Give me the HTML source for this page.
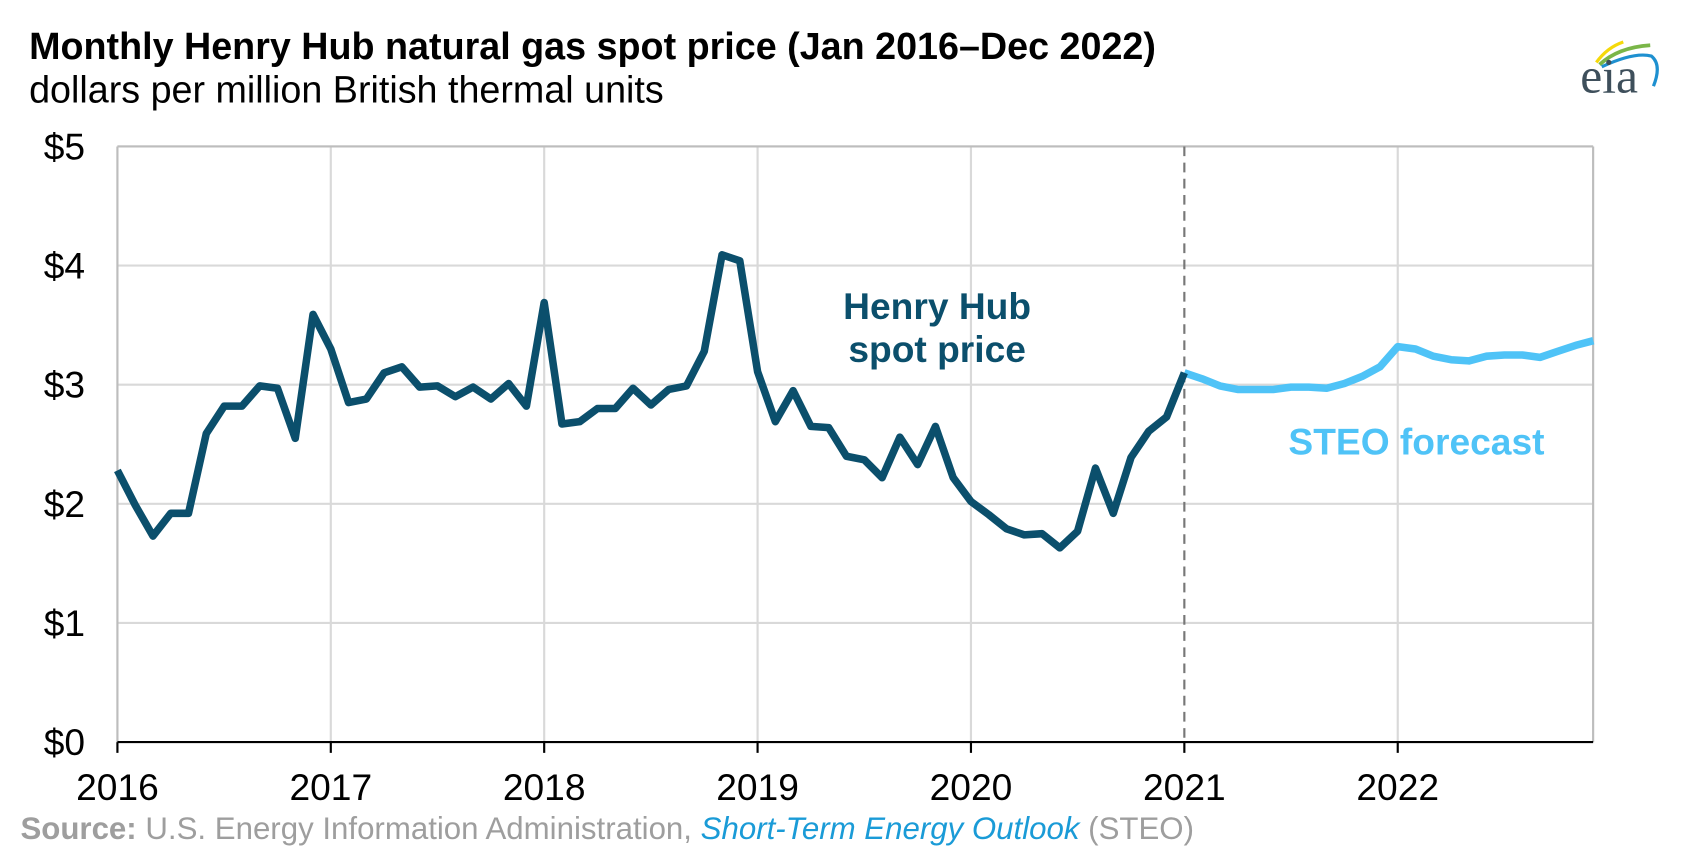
<!DOCTYPE html>
<html><head><meta charset="utf-8"><style>
html,body{margin:0;padding:0;background:#fff;}
svg{display:block;font-family:"Liberation Sans",Arial,sans-serif;}
</style></head><body>
<svg id="s" width="1689" height="847" viewBox="0 0 1568 786.4" preserveAspectRatio="none">
<text x="27" y="55" font-size="35" font-weight="bold" fill="#000">Monthly Henry Hub natural gas spot price (Jan 2016–Dec 2022)</text>
<text x="27" y="95" font-size="35" fill="#000">dollars per million British thermal units</text>
<g id="grid"></g>
<g id="eia">
<path d="M1482 58 Q1492 44 1507 39" stroke="#f5d90a" stroke-width="3" fill="none"/>
<path d="M1485 60 Q1502 44 1532 42" stroke="#7ab648" stroke-width="3.5" fill="none"/>
<path d="M1487 62 Q1517 48 1533 52 Q1543 60 1535 80" stroke="#1e90d0" stroke-width="3" fill="none"/>
<text x="1467" y="86" font-family="Liberation Serif,serif" font-size="46" fill="#3e4f5b">eia</text>
</g>
<text x="870" y="296" font-size="34.5" font-weight="bold" fill="#0b4f6c" text-anchor="middle">Henry Hub</text>
<text x="870" y="336" font-size="34.5" font-weight="bold" fill="#0b4f6c" text-anchor="middle">spot price</text>
<text x="1315" y="422" font-size="34.5" font-weight="bold" fill="#4fc3f7" text-anchor="middle">STEO forecast</text>
<text x="19" y="779" font-size="29" fill="#9e9e9e"><tspan font-weight="bold">Source:</tspan> U.S. Energy Information Administration, <tspan fill="#1a9bd7" font-style="italic">Short-Term Energy Outlook</tspan> (STEO)</text>
</svg>
<script>
var s=document.getElementById('grid'),ns='http://www.w3.org/2000/svg';
function el(t,a){var e=document.createElementNS(ns,t);for(var k in a)e.setAttribute(k,a[k]);s.appendChild(e);return e;}
var X0=109,X1=1479,Y0=689,PD=110.6,YR=198.1,M=YR/12;
for(var i=1;i<=5;i++){var y=Y0-i*PD;el('line',{x1:X0,x2:X1,y1:y,y2:y,stroke:'#d9d9d9','stroke-width':2});
var t=el('text',{x:79,y:y+12,'font-size':34.5,'text-anchor':'end'});t.textContent='$'+i;}
var t=el('text',{x:79,y:Y0+12,'font-size':34.5,'text-anchor':'end'});t.textContent='$0';
for(var j=0;j<7;j++){var x=X0+j*YR;if(j>0&&j!=5)el('line',{x1:x,x2:x,y1:136,y2:Y0,stroke:'#d9d9d9','stroke-width':2});
el('line',{x1:x,x2:x,y1:Y0,y2:Y0+10,stroke:'#000','stroke-width':2});
var tt=el('text',{x:x,y:743,'font-size':34.5,'text-anchor':'middle'});tt.textContent=2016+j;}
el('line',{x1:X0,x2:X1,y1:136,y2:136,stroke:'#bdbdbd','stroke-width':2});
el('line',{x1:X0,x2:X0,y1:136,y2:Y0,stroke:'#bdbdbd','stroke-width':2});
el('line',{x1:X1,x2:X1,y1:136,y2:Y0,stroke:'#bdbdbd','stroke-width':2});
el('line',{x1:X0+5*YR,x2:X0+5*YR,y1:136,y2:Y0,stroke:'#777','stroke-width':2,'stroke-dasharray':'9,6'});
el('line',{x1:X0,x2:X1,y1:Y0,y2:Y0,stroke:'#000','stroke-width':2});
var h=[2.28,1.99,1.73,1.92,1.92,2.59,2.82,2.82,2.99,2.97,2.55,3.59,3.30,2.85,2.88,3.10,3.15,2.98,2.99,2.90,2.98,2.88,3.01,2.82,3.69,2.67,2.69,2.80,2.80,2.97,2.83,2.96,2.99,3.28,4.09,4.04,3.11,2.69,2.95,2.65,2.64,2.40,2.37,2.22,2.56,2.33,2.65,2.22,2.02,1.91,1.79,1.74,1.75,1.63,1.77,2.30,1.92,2.39,2.61,2.73,3.10];
var f=[3.10,3.05,2.99,2.96,2.96,2.96,2.98,2.98,2.97,3.01,3.07,3.15,3.32,3.30,3.24,3.21,3.20,3.24,3.25,3.25,3.23,3.28,3.33,3.37];
function pts(a,o){return a.map(function(v,i){return (X0+(i+o)*M).toFixed(1)+','+(Y0-v*PD).toFixed(1)}).join(' ');}
el('polyline',{points:pts(f,60),fill:'none',stroke:'#4fc3f7','stroke-width':7,'stroke-linejoin':'round'});
el('polyline',{points:pts(h,0),fill:'none',stroke:'#0b4f6c','stroke-width':7,'stroke-linejoin':'round'});
</script>
</body></html>
